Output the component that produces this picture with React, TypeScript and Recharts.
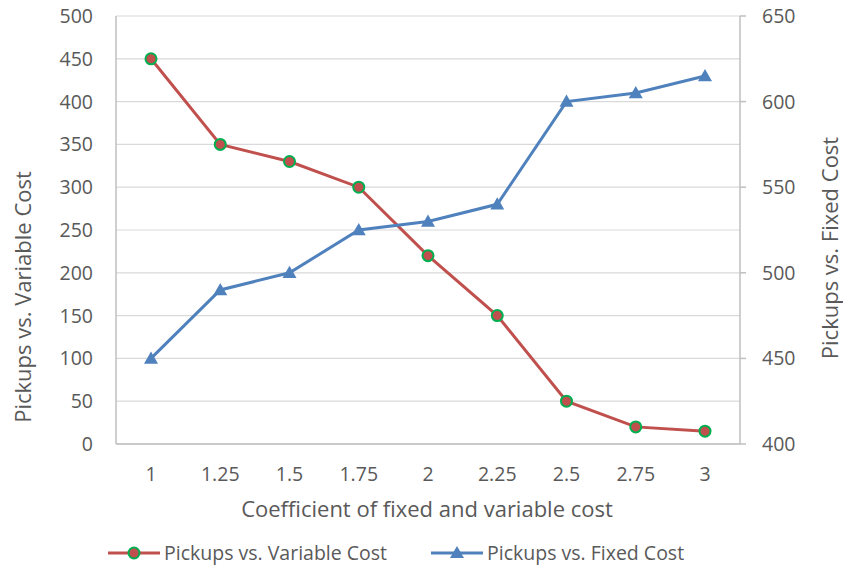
import {
  LineChart,
  Line,
  XAxis,
  YAxis,
  CartesianGrid,
  Legend,
  Label,
} from "recharts";

const coefficients = ["1", "1.25", "1.5", "1.75", "2", "2.25", "2.5", "2.75", "3"];
const variableCost = [450, 350, 330, 300, 220, 150, 50, 20, 15];
const fixedCost = [450, 490, 500, 525, 530, 540, 600, 605, 615];
const leftTicks = [0, 50, 100, 150, 200, 250, 300, 350, 400, 450, 500];
const rightTicks = [400, 450, 500, 550, 600, 650];

const RED = "#C0504D";
const GREEN = "#00B050";
const BLUE = "#4F81BD";
const TEXT = "#595959";
const FONT = "'Open Sans', sans-serif";
const TICK_SIZE = 19.5;
const TITLE_SIZE = 22;

const data = coefficients.map((c, i) => ({
  x: c,
  variable: variableCost[i],
  fixed: fixedCost[i],
}));

const CircleDot = (props: any) => {
  const { cx, cy, index } = props;
  if (cx == null || cy == null) return null;
  return <circle key={`c${index}`} cx={cx} cy={cy} r={5.5} fill={RED} stroke={GREEN} strokeWidth={2} />;
};

const TriangleDot = (props: any) => {
  const { cx, cy, index } = props;
  if (cx == null || cy == null) return null;
  const s = 7;
  return (
    <polygon
      key={`t${index}`}
      points={`${cx},${cy - s} ${cx + s},${cy + s * 0.75} ${cx - s},${cy + s * 0.75}`}
      fill={BLUE}
    />
  );
};

const LegendContent = () => (
  <div style={{ position: "relative", height: 30, fontFamily: FONT, fontSize: TICK_SIZE, color: TEXT }}>
    <div style={{ position: "absolute", left: 107, top: 0, display: "flex", alignItems: "center" }}>
      <svg width={54} height={24}>
        <line x1={1} y1={12} x2={53} y2={12} stroke={RED} strokeWidth={3} />
        <circle cx={27} cy={12} r={5.5} fill={RED} stroke={GREEN} strokeWidth={2} />
      </svg>
      <span style={{ marginLeft: 3 }}>Pickups vs. Variable Cost</span>
    </div>
    <div style={{ position: "absolute", left: 430, top: 0, display: "flex", alignItems: "center" }}>
      <svg width={54} height={24}>
        <line x1={1} y1={12} x2={53} y2={12} stroke={BLUE} strokeWidth={3} />
        <polygon points="27,5 34,17 20,17" fill={BLUE} />
      </svg>
      <span style={{ marginLeft: 3 }}>Pickups vs. Fixed Cost</span>
    </div>
  </div>
);

export default function App() {
  return (
    <div style={{ position: "absolute", left: 0, top: 0, width: 843, height: 567, background: "#fff" }}>
      <LineChart
        width={843}
        height={567}
        data={data}
        margin={{ top: 16, right: 0, left: 16, bottom: 43 }}
      >
        <CartesianGrid vertical={false} stroke="#D9D9D9" strokeWidth={1.2} yAxisId="left" />
        <XAxis
          dataKey="x"
          padding={{ left: 35, right: 35 }}
          height={80}
          tickLine={false}
          axisLine={{ stroke: "#BFBFBF", strokeWidth: 1.5 }}
          tick={{ fill: TEXT, fontSize: TICK_SIZE, fontFamily: FONT }}
          tickMargin={17}
        >
          <Label
            content={() => (
              <text x={427} y={517} textAnchor="middle" fill={TEXT} fontSize={TITLE_SIZE} fontFamily={FONT}>
                Coefficient of fixed and variable cost
              </text>
            )}
          />
        </XAxis>
        <YAxis
          yAxisId="left"
          width={100}
          domain={[0, 500]}
          ticks={leftTicks}
          interval={0}
          tickLine={false}
          axisLine={{ stroke: "#BFBFBF", strokeWidth: 1.5 }}
          tick={{ fill: TEXT, fontSize: TICK_SIZE, fontFamily: FONT }}
          tickMargin={17}
        >
          <Label
            content={() => (
              <text
                x={0}
                y={0}
                transform="translate(31 297) rotate(-90)"
                textAnchor="middle"
                fill={TEXT}
                fontSize={TITLE_SIZE}
                fontFamily={FONT}
              >
                Pickups vs. Variable Cost
              </text>
            )}
          />
        </YAxis>
        <YAxis
          yAxisId="right"
          orientation="right"
          width={103}
          domain={[400, 650]}
          ticks={rightTicks}
          interval={0}
          tickLine={{ stroke: "#BFBFBF", strokeWidth: 1.5 }}
          tickSize={6}
          axisLine={{ stroke: "#BFBFBF", strokeWidth: 1.5 }}
          tick={{ fill: TEXT, fontSize: TICK_SIZE, fontFamily: FONT }}
          tickMargin={16}
        >
          <Label
            content={() => (
              <text
                x={0}
                y={0}
                transform="translate(838 248) rotate(-90)"
                textAnchor="middle"
                fill={TEXT}
                fontSize={TITLE_SIZE}
                fontFamily={FONT}
              >
                Pickups vs. Fixed Cost
              </text>
            )}
          />
        </YAxis>
        <Legend
          verticalAlign="middle"
          layout="horizontal"
          content={<LegendContent />}
          wrapperStyle={{ top: 539, left: 0, width: 843 }}
        />
        <Line
          yAxisId="left"
          dataKey="variable"
          name="Pickups vs. Variable Cost"
          stroke={RED}
          strokeWidth={3}
          dot={<CircleDot />}
          isAnimationActive={false}
        />
        <Line
          yAxisId="right"
          dataKey="fixed"
          name="Pickups vs. Fixed Cost"
          stroke={BLUE}
          strokeWidth={3}
          dot={<TriangleDot />}
          isAnimationActive={false}
        />
      </LineChart>
    </div>
  );
}
